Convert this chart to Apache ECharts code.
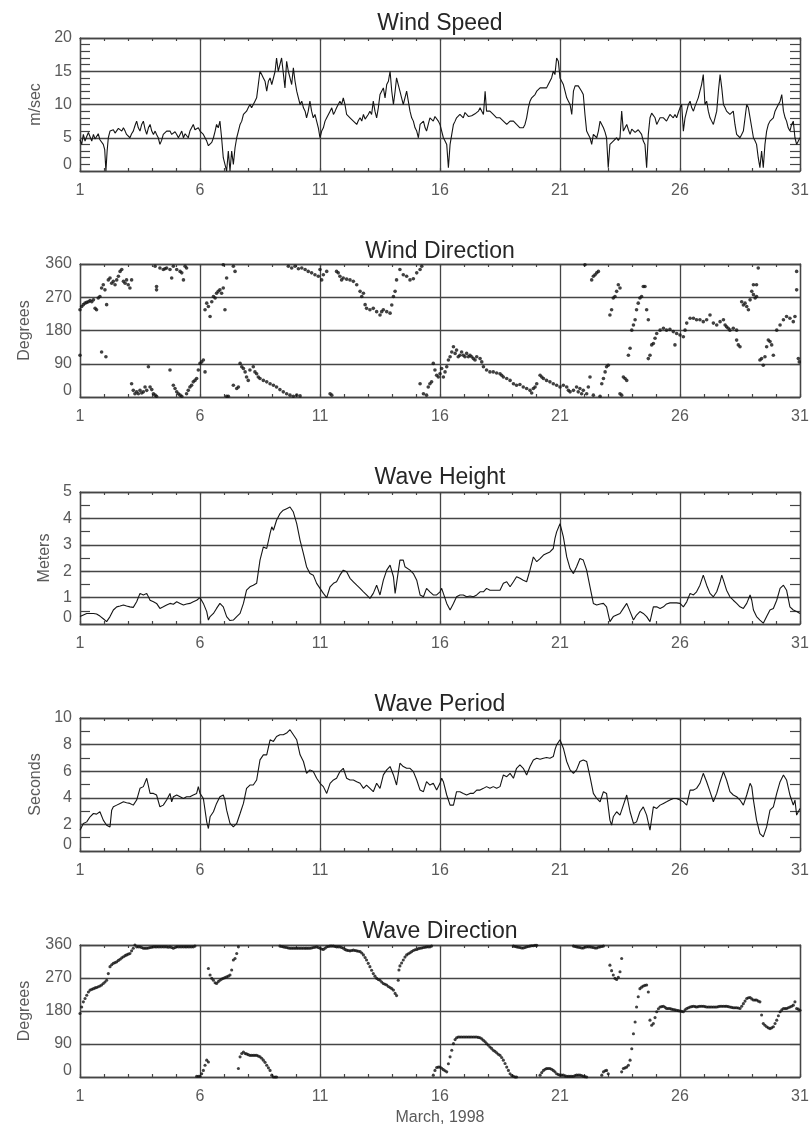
<!DOCTYPE html>
<html>
<head>
<meta charset="utf-8">
<script src="https://cdn.jsdelivr.net/npm/echarts@6/dist/echarts.min.js"></script>
<style>
  html, body { margin: 0; padding: 0; background: #ffffff; }
  #chart { width: 809px; height: 1125px; }
</style>
</head>
<body>
<div id="chart"></div>
<script>
// Time is measured in days elapsed since 1 March 1998, 00:00.
const dayLabels = ['1', '6', '11', '16', '21', '26', '31'];
const windSpeedTicks = [0, 5, 10, 15, 20];
const degreeTicks = [0, 90, 180, 270, 360];
const waveHeightTicks = [0, 1, 2, 3, 4, 5];
const wavePeriodTicks = [0, 2, 4, 6, 8, 10];
const panelTitles = ['Wind Speed', 'Wind Direction', 'Wave Height', 'Wave Period', 'Wave Direction'];
const unitNames = ['m/sec', 'Degrees', 'Meters', 'Seconds', 'Degrees'];
const monthLabel = 'March, 1998';

// [day, m/sec]
const windSpeed = [
  [0,4.7],[0.07,4],[0.14,5.5],[0.21,4.5],[0.28,5.2],[0.35,5.8],[0.42,5.5],[0.49,4.5],[0.56,5.5],[0.63,4.8],[0.69,5],[0.76,5.6],[0.83,4.7],[0.90,4.4],[0.97,4],[1.03,3.2],[1.08,0],[1.13,3],[1.18,5],[1.25,6],[1.32,6.3],[1.39,6.2],[1.46,5.7],[1.53,6],[1.60,6.4],[1.67,6.5],[1.74,6],[1.81,6.5],[1.88,6],[1.94,5.5],[2.01,5.3],[2.08,5],[2.15,5.6],[2.22,6],[2.29,6.8],[2.36,7.5],[2.43,6.5],[2.50,6],[2.57,7],[2.64,7.5],[2.71,6.3],[2.78,5.5],[2.85,6.5],[2.92,7],[2.99,6],[3.06,5.5],[3.13,6],[3.19,5.5],[3.26,5],[3.33,4],[3.40,4.6],[3.47,5.5],[3.54,5.8],[3.61,6],[3.68,6.2],[3.75,6],[3.82,5.5],[3.89,5.5],[3.96,5.9],[4.03,5.5],[4.10,5],[4.17,5.5],[4.24,6],[4.31,5],[4.38,5.6],[4.44,5.5],[4.51,5],[4.58,6],[4.65,6.5],[4.72,7],[4.79,6.2],[4.86,6],[4.93,6.5],[5.00,6],[5.07,5.8],[5.14,5.5],[5.21,5],[5.28,4.5],[5.35,3.8],[5.42,3.5],[5.49,4.3],[5.56,5],[5.63,6],[5.69,7],[5.76,6.5],[5.83,7.5],[5.90,5],[5.97,2],[6.04,1],[6.11,0],[6.18,3],[6.25,0],[6.32,3],[6.39,1],[6.46,3.5],[6.53,5],[6.60,6],[6.67,7],[6.74,7.5],[6.81,8.5],[6.88,8.2],[6.94,9],[7.01,9.5],[7.08,10],[7.15,9.5],[7.22,10],[7.29,10.5],[7.36,11],[7.43,13],[7.50,15],[7.57,14.5],[7.64,14],[7.71,13.5],[7.78,12],[7.85,13.5],[7.92,14],[7.99,13],[8.06,13],[8.13,15],[8.19,17],[8.26,15],[8.33,16],[8.40,17],[8.47,17],[8.54,12.5],[8.61,16.5],[8.68,15],[8.75,14],[8.82,13],[8.89,15.5],[8.96,13.5],[9.03,12],[9.10,11],[9.17,10],[9.24,10.5],[9.31,9.5],[9.38,9],[9.44,8],[9.51,9],[9.58,10.5],[9.65,9],[9.72,8],[9.79,8.5],[9.86,7.5],[9.93,6.5],[10.00,5],[10.07,6],[10.14,6.5],[10.21,7.5],[10.28,8],[10.35,8.5],[10.42,9],[10.49,9.5],[10.56,8.5],[10.63,9],[10.69,9.5],[10.76,10],[10.83,10.5],[10.90,10],[10.97,11],[11.04,10],[11.11,8.5],[11.18,8.8],[11.25,8],[11.32,7.8],[11.39,7.5],[11.46,7.8],[11.53,7],[11.60,7.6],[11.67,8],[11.74,7.5],[11.81,8.5],[11.88,7.8],[11.94,7.5],[12.01,8.5],[12.08,9],[12.15,8.5],[12.22,10.5],[12.29,9],[12.36,8],[12.43,9.5],[12.50,11.5],[12.57,12],[12.64,12.5],[12.71,11],[12.78,13],[12.85,13.5],[12.92,15],[12.99,12],[13.06,10],[13.13,12],[13.19,14],[13.26,13],[13.33,12],[13.40,11],[13.47,10],[13.54,11],[13.61,12],[13.68,10.5],[13.75,9],[13.82,8],[13.89,7.5],[13.96,6.5],[14.03,6],[14.10,5],[14.17,7],[14.24,7.2],[14.31,7.5],[14.38,6.5],[14.44,6],[14.51,7],[14.58,8],[14.65,7.8],[14.72,7.5],[14.79,8.2],[14.86,8],[14.93,7.5],[15.00,7],[15.07,6],[15.14,5],[15.21,4.5],[15.28,4],[15.35,0.5],[15.42,4],[15.49,5.5],[15.56,7],[15.63,7.5],[15.69,8],[15.76,8.2],[15.83,8.5],[15.90,8.3],[15.97,8],[16.04,8.8],[16.11,8.5],[16.18,8.2],[16.25,8],[16.32,8.3],[16.39,8],[16.46,8.6],[16.53,8.5],[16.60,9],[16.67,9.5],[16.74,9],[16.81,8.5],[16.88,12],[16.94,9],[17.01,9.2],[17.08,9],[17.15,8.8],[17.22,8.5],[17.29,8.3],[17.36,8],[17.43,8.2],[17.50,8],[17.57,7.7],[17.64,7.5],[17.71,7.3],[17.78,7],[17.85,7.2],[17.92,7.5],[17.99,7.8],[18.06,7.5],[18.13,7.2],[18.19,7],[18.26,6.8],[18.33,6.5],[18.40,6.8],[18.47,6.5],[18.54,7],[18.61,8],[18.68,9.5],[18.75,10.5],[18.82,11],[18.89,11],[18.96,11.5],[19.03,12],[19.10,12.3],[19.17,12.5],[19.24,12.2],[19.31,12.5],[19.38,12.8],[19.44,12.5],[19.51,13],[19.58,13.5],[19.65,14],[19.72,15],[19.79,14.5],[19.86,17],[19.93,16.5],[20.00,14],[20.07,13.5],[20.14,13],[20.21,12],[20.28,11],[20.35,10.5],[20.42,10],[20.49,8.5],[20.56,12],[20.63,12.8],[20.69,13],[20.76,12.8],[20.83,12.5],[20.90,12],[20.97,11.5],[21.04,8.5],[21.11,6],[21.18,5.5],[21.25,5],[21.32,4],[21.39,5.5],[21.46,5.3],[21.53,5],[21.60,6],[21.67,7.5],[21.74,7],[21.81,6.5],[21.88,5.8],[21.94,5],[22.01,0.5],[22.08,4],[22.15,4.3],[22.22,4.5],[22.29,4.8],[22.36,5],[22.43,4.6],[22.50,5],[22.57,9],[22.64,6],[22.71,6.5],[22.78,7],[22.85,6.2],[22.92,5.5],[22.99,6.3],[23.06,6],[23.13,5.8],[23.19,5.5],[23.26,6.2],[23.33,6],[23.40,5.5],[23.47,4.5],[23.54,4],[23.61,0.5],[23.68,5.5],[23.75,8],[23.82,8.7],[23.89,9],[23.96,8],[24.03,7],[24.10,7.5],[24.17,8],[24.24,8.2],[24.31,8],[24.38,7.8],[24.44,7.5],[24.51,8],[24.58,8.5],[24.65,8.2],[24.72,8],[24.79,8.5],[24.86,8],[24.93,8.8],[25.00,9.5],[25.07,10],[25.14,6],[25.21,8],[25.28,9],[25.35,10],[25.42,10.5],[25.49,9.5],[25.56,9],[25.63,9.8],[25.69,10],[25.76,11],[25.83,12],[25.90,13],[25.97,14.5],[26.04,10],[26.11,10.5],[26.18,9],[26.25,8],[26.32,7.5],[26.39,7],[26.46,8],[26.53,9],[26.60,12],[26.67,14.5],[26.74,12.5],[26.81,10],[26.88,9.5],[26.94,9],[27.01,8.8],[27.08,8.5],[27.15,8.8],[27.22,9],[27.29,7],[27.36,5.5],[27.43,5.2],[27.50,5],[27.57,5.5],[27.64,6],[27.71,8],[27.78,10],[27.85,9.5],[27.92,8],[27.99,6.5],[28.06,5],[28.13,4.5],[28.19,4],[28.26,2],[28.33,0.5],[28.40,3],[28.47,0.5],[28.54,4],[28.61,6],[28.68,7],[28.75,7.5],[28.82,7.8],[28.89,8],[28.96,9],[29.03,9.5],[29.10,10],[29.17,10.5],[29.24,11.5],[29.31,9],[29.38,8],[29.44,7.5],[29.51,6.5],[29.58,6],[29.65,7],[29.72,7.5],[29.79,5],[29.86,4],[29.93,4.5],[30.00,5]
];

// [day, degrees]
const windDirection = [
  [0.00,236],[0.07,245],[0.14,250],[0.21,254],[0.28,256],[0.35,258],[0.42,261],[0.49,258],[0.56,263],[0.63,240],[0.69,236],[0.76,268],[0.83,272],[0.90,295],[0.97,304],[1.04,290],[1.11,250],
  [0.00,113],[0.90,122],[1.08,109],
  [1.18,317],[1.25,322],[1.32,308],[1.39,313],[1.46,304],[1.53,317],[1.60,327],[1.67,340],[1.74,345],[1.81,313],[1.88,308],[1.94,317],[2.01,304],[2.08,295],[2.15,317],
  [2.15,36],[2.22,18],[2.29,9],[2.36,14],[2.43,9],[2.50,18],[2.57,11],[2.64,14],[2.71,27],[2.78,18],[2.85,82],[2.92,27],[2.99,20],[3.06,9],[3.13,5],[3.19,2],
  [3.19,290],[3.19,299],
  [3.13,354],[3.33,349],[3.47,345],[3.54,347],[3.61,349],[3.75,345],[3.82,322],[3.89,354],[4.03,345],[4.17,340],[4.24,336],[4.31,317],[4.38,354],[4.44,349],
  [3.75,73],[3.89,32],[3.96,23],[4.03,14],[4.10,9],[4.17,5],[4.24,2],
  [4.44,9],[4.51,18],[4.58,27],[4.65,32],[4.72,41],[4.79,45],[4.86,50],[4.93,73],[5.00,91],[5.07,95],[5.14,100],[5.21,68],
  [5.21,236],[5.28,254],[5.35,245],[5.42,218],[5.49,258],[5.56,272],[5.63,268],[5.69,281],[5.76,286],[5.83,290],[5.90,281],[5.97,295],[6.04,236],[6.11,322],
  [5.97,358],[6.39,354],[6.46,340],
  [6.39,32],[6.53,23],[6.60,27],
  [6.11,2],[6.18,2],
  [6.67,91],[6.74,82],[6.81,77],[6.88,68],[6.94,54],[7.01,45],[7.08,73],[7.22,82],[7.29,68],[7.36,63],[7.43,54],[7.50,50],[7.64,45],[7.78,41],[7.92,36],[8.06,32],[8.19,27],[8.33,20],[8.47,14],[8.61,9],[8.75,5],[8.89,2],[9.03,5],[9.17,3],
  [8.68,354],[8.82,349],[8.96,354],[9.10,347],[9.24,349],[9.38,345],[9.51,340],[9.65,336],[9.79,331],[9.93,327],[10.00,345],[10.07,317],[10.14,331],[10.28,340],
  [10.42,9],[10.49,5],
  [10.69,340],[10.76,336],[10.83,327],[10.90,317],[10.97,322],[11.11,319],[11.25,317],[11.39,313],[11.53,304],[11.67,286],[11.74,272],[11.81,281],
  [11.88,250],[11.94,240],[12.08,236],[12.22,240],[12.36,231],[12.50,222],[12.57,231],[12.64,236],[12.78,231],[12.92,227],[12.99,249],[13.06,272],[13.13,286],
  [13.19,317],[13.33,345],[13.47,331],[13.61,327],[13.75,317],[13.89,320],[14.03,336],[14.17,345],[14.24,354],
  [14.17,36],[14.31,9],[14.44,5],[14.51,27],[14.58,36],[14.65,41],[14.72,91],[14.79,73],[14.86,59],[14.93,54],[15.00,63],[15.07,77],[15.14,54],[15.21,68],[15.28,82],[15.35,100],[15.42,109],[15.49,122],[15.56,136],[15.63,118],[15.69,127],[15.76,109],[15.83,113],[15.90,122],[15.97,113],[16.04,109],[16.11,118],[16.18,109],[16.25,113],[16.32,109],[16.39,104],[16.46,100],[16.53,109],[16.67,104],[16.74,95],
  [16.81,82],[16.94,73],[17.08,68],[17.22,68],[17.36,65],[17.50,63],[17.57,59],[17.64,54],[17.78,50],[17.92,45],[18.06,36],[18.19,32],[18.33,34],[18.47,27],[18.61,23],[18.75,18],[18.82,11],[18.89,23],[18.96,27],[19.03,36],[19.17,59],[19.24,54],[19.31,50],[19.44,45],[19.58,41],[19.72,36],[19.86,32],[20.00,27],[20.14,32],[20.28,27],[20.35,18],[20.42,14],[20.56,18],[20.69,27],[20.76,14],[20.83,23],[20.90,9],[20.97,18],[21.11,9],[21.18,27],[21.25,54],[21.39,5],
  [21.04,358],[21.32,317],[21.39,327],[21.46,331],[21.53,336],[21.60,340],
  [21.67,2],
  [21.74,36],[21.81,50],[21.88,68],[21.94,82],[22.01,86],
  [22.08,222],[22.15,236],[22.22,268],[22.29,272],[22.36,286],[22.43,304],[22.50,295],
  [22.50,9],[22.57,5],
  [22.64,54],[22.71,50],[22.78,45],
  [22.85,113],[22.92,132],[22.99,181],[23.06,195],[23.13,209],[23.19,236],[23.26,254],[23.33,268],[23.40,272],[23.47,299],[23.54,299],[23.61,236],[23.68,209],
  [23.68,104],[23.75,113],[23.82,141],[23.89,145],[23.96,159],[24.03,172],[24.17,181],[24.31,186],[24.44,181],[24.58,183],[24.72,177],[24.86,172],[25.00,168],[25.14,163],[24.79,141],
  [25.21,181],[25.28,200],[25.42,213],[25.56,213],[25.69,209],[25.83,209],[25.97,204],[26.11,209],[26.25,222],[26.39,200],[26.53,195],[26.67,204],[26.81,209],[26.88,195],[26.94,190],[27.01,186],[27.08,181],[27.22,186],[27.36,181],
  [27.36,154],[27.43,141],[27.50,136],
  [27.57,258],[27.64,249],[27.71,254],[27.78,245],[27.85,236],[27.92,263],[27.99,286],[28.06,277],[28.13,268],[28.19,272],[28.06,304],[28.19,304],
  [28.26,349],
  [28.33,100],[28.40,104],[28.47,86],[28.54,109],[28.61,136],[28.68,154],[28.75,150],[28.82,141],[28.89,113],
  [29.03,181],[29.17,195],[29.31,209],[29.44,218],[29.58,213],[29.72,204],[29.79,218],
  [29.86,340],[29.86,290],[29.93,104],[29.97,95]
];

// [day, meters]
const waveHeight = [
  [0.00,0.28],[0.14,0.34],[0.28,0.4],[0.42,0.4],[0.56,0.4],[0.69,0.38],[0.83,0.3],[0.97,0.2],[1.11,0.09],[1.25,0.28],[1.39,0.53],[1.53,0.65],[1.67,0.68],[1.81,0.72],[1.94,0.68],[2.08,0.65],[2.22,0.63],[2.36,0.84],[2.50,1.16],[2.64,1.1],[2.78,1.16],[2.92,0.9],[3.06,0.84],[3.19,0.78],[3.33,0.59],[3.47,0.65],[3.61,0.72],[3.75,0.78],[3.89,0.75],[4.03,0.84],[4.17,0.78],[4.31,0.72],[4.44,0.76],[4.58,0.78],[4.72,0.84],[4.86,0.9],[5.00,1.0],[5.14,0.78],[5.28,0.47],[5.35,0.15],[5.42,0.28],[5.56,0.4],[5.69,0.59],[5.83,0.78],[5.90,0.8],[5.97,0.65],[6.11,0.28],[6.25,0.13],[6.39,0.15],[6.53,0.28],[6.67,0.4],[6.81,0.78],[6.94,1.28],[7.08,1.41],[7.22,1.47],[7.36,1.54],[7.50,2.42],[7.64,2.92],[7.78,2.86],[7.92,3.43],[7.99,3.68],[8.06,3.55],[8.19,3.93],[8.33,4.18],[8.47,4.31],[8.61,4.37],[8.75,4.43],[8.82,4.37],[8.89,4.24],[9.03,3.8],[9.17,3.17],[9.31,2.67],[9.44,2.17],[9.58,1.91],[9.65,1.98],[9.72,1.85],[9.86,1.54],[10.00,1.35],[10.14,1.16],[10.28,1.0],[10.42,1.41],[10.56,1.54],[10.69,1.6],[10.83,1.85],[10.97,2.04],[11.11,1.98],[11.25,1.73],[11.39,1.6],[11.53,1.47],[11.67,1.35],[11.81,1.22],[11.94,1.1],[12.08,0.97],[12.22,1.16],[12.36,1.47],[12.50,1.1],[12.64,1.66],[12.78,2.04],[12.92,2.23],[13.06,1.79],[13.13,1.16],[13.19,1.22],[13.33,2.42],[13.47,2.42],[13.54,2.17],[13.61,2.17],[13.75,2.04],[13.89,1.91],[14.03,1.66],[14.17,1.1],[14.31,1.03],[14.44,1.35],[14.58,1.22],[14.72,1.1],[14.86,1.1],[15.00,1.22],[15.07,1.35],[15.14,1.16],[15.28,0.78],[15.42,0.53],[15.49,0.53],[15.56,0.78],[15.69,1.03],[15.83,1.1],[15.97,1.1],[16.11,1.03],[16.25,1.06],[16.39,1.03],[16.53,1.1],[16.67,1.22],[16.81,1.22],[16.94,1.35],[17.08,1.28],[17.22,1.28],[17.36,1.28],[17.50,1.28],[17.64,1.54],[17.78,1.6],[17.92,1.41],[18.06,1.6],[18.19,1.79],[18.33,1.73],[18.47,1.66],[18.61,1.6],[18.75,2.04],[18.89,2.54],[19.03,2.36],[19.17,2.48],[19.31,2.61],[19.44,2.67],[19.58,2.73],[19.72,2.86],[19.79,3.24],[19.86,3.49],[20.00,3.8],[20.14,3.3],[20.28,2.54],[20.42,2.1],[20.56,1.91],[20.69,2.17],[20.83,2.48],[20.97,2.42],[21.11,2.04],[21.25,1.41],[21.39,0.78],[21.53,0.72],[21.67,0.76],[21.81,0.78],[21.94,0.65],[22.08,0.09],[22.22,0.28],[22.36,0.34],[22.50,0.4],[22.64,0.59],[22.78,0.78],[22.92,0.47],[23.06,0.15],[23.19,0.34],[23.33,0.47],[23.47,0.4],[23.61,0.28],[23.75,0.09],[23.89,0.65],[24.03,0.65],[24.17,0.59],[24.31,0.65],[24.44,0.76],[24.58,0.8],[24.72,0.8],[24.86,0.8],[25.00,0.78],[25.14,0.65],[25.28,0.84],[25.42,1.16],[25.56,1.1],[25.69,1.22],[25.83,1.47],[25.97,1.85],[26.11,1.47],[26.25,1.16],[26.39,1.03],[26.53,1.22],[26.67,1.6],[26.74,1.85],[26.81,1.66],[26.94,1.28],[27.08,1.03],[27.22,0.9],[27.36,0.78],[27.50,0.65],[27.64,0.59],[27.78,0.78],[27.92,1.1],[27.99,0.9],[28.06,0.53],[28.19,0.28],[28.33,0.15],[28.47,0.03],[28.61,0.28],[28.75,0.53],[28.89,0.59],[29.03,0.9],[29.17,1.35],[29.31,1.47],[29.44,1.28],[29.58,0.65],[29.72,0.53],[29.86,0.47],[30.00,0.4]
];

// [day, seconds]
const wavePeriod = [
  [0.00,1.56],[0.14,2.07],[0.28,2.19],[0.42,2.57],[0.56,2.82],[0.69,2.77],[0.83,2.95],[0.97,2.32],[1.11,1.94],[1.25,1.81],[1.32,3.07],[1.39,3.32],[1.53,3.45],[1.67,3.58],[1.81,3.7],[1.94,3.63],[2.08,3.58],[2.22,3.45],[2.36,3.83],[2.50,4.71],[2.64,4.84],[2.78,5.47],[2.92,4.33],[3.06,4.33],[3.19,4.21],[3.33,3.32],[3.47,3.45],[3.61,3.83],[3.75,4.33],[3.82,3.7],[3.89,4.08],[4.03,4.21],[4.17,4.08],[4.31,3.95],[4.44,4.08],[4.58,4.08],[4.72,4.21],[4.86,4.33],[4.93,4.84],[5.00,4.33],[5.14,3.95],[5.28,2.19],[5.35,1.69],[5.42,2.57],[5.56,2.95],[5.69,3.58],[5.83,4.08],[5.97,4.21],[6.04,3.83],[6.11,3.07],[6.25,2.07],[6.39,1.81],[6.53,2.07],[6.67,2.82],[6.81,3.58],[6.94,4.71],[7.08,4.96],[7.22,4.96],[7.36,5.34],[7.50,6.85],[7.64,7.23],[7.78,7.23],[7.92,8.36],[7.99,8.49],[8.06,8.24],[8.19,8.61],[8.33,8.74],[8.47,8.74],[8.61,8.87],[8.75,9.12],[8.89,8.74],[9.03,8.36],[9.17,7.23],[9.31,6.73],[9.44,5.84],[9.58,6.1],[9.72,5.97],[9.86,5.47],[10.00,5.09],[10.14,4.84],[10.28,4.33],[10.42,5.09],[10.56,5.34],[10.69,5.47],[10.83,5.97],[10.97,6.22],[11.11,5.47],[11.25,5.34],[11.39,5.34],[11.53,5.21],[11.67,5.09],[11.81,4.71],[11.94,4.96],[12.08,4.71],[12.22,4.46],[12.36,5.09],[12.50,4.71],[12.64,5.72],[12.78,6.1],[12.92,6.35],[13.06,5.72],[13.19,4.96],[13.33,6.6],[13.47,6.35],[13.61,6.22],[13.75,6.22],[13.89,5.97],[14.03,5.34],[14.17,4.58],[14.31,4.46],[14.44,5.21],[14.58,4.96],[14.72,5.09],[14.86,4.58],[15.00,5.09],[15.07,5.47],[15.14,5.21],[15.28,4.21],[15.42,3.45],[15.56,3.45],[15.69,4.46],[15.83,4.46],[15.97,4.33],[16.11,4.21],[16.25,4.33],[16.39,4.33],[16.53,4.58],[16.67,4.58],[16.81,4.71],[16.94,4.84],[17.08,4.71],[17.22,4.84],[17.36,4.71],[17.50,4.84],[17.64,5.72],[17.78,5.59],[17.92,5.84],[18.06,5.47],[18.19,6.22],[18.33,6.47],[18.47,6.22],[18.61,5.72],[18.75,6.35],[18.89,6.85],[19.03,6.98],[19.17,6.9],[19.31,6.98],[19.44,7.03],[19.58,6.98],[19.72,7.1],[19.79,7.61],[19.86,7.98],[20.00,8.36],[20.14,7.73],[20.28,6.73],[20.42,6.1],[20.56,5.84],[20.69,6.1],[20.83,6.73],[20.97,6.85],[21.11,6.73],[21.25,5.59],[21.39,4.33],[21.53,3.95],[21.67,3.7],[21.81,4.46],[21.94,4.33],[22.08,2.32],[22.15,1.94],[22.22,2.57],[22.36,2.95],[22.50,2.7],[22.64,3.45],[22.78,4.21],[22.92,2.95],[23.06,2.07],[23.19,2.19],[23.33,2.95],[23.47,3.32],[23.61,2.7],[23.75,1.56],[23.89,3.32],[24.03,3.2],[24.17,3.45],[24.31,3.58],[24.44,3.7],[24.58,3.83],[24.72,3.95],[24.86,3.95],[25.00,3.83],[25.14,3.7],[25.28,3.45],[25.42,4.58],[25.56,4.58],[25.69,4.71],[25.83,5.09],[25.97,5.84],[26.11,5.21],[26.25,4.46],[26.39,3.7],[26.53,4.33],[26.67,5.21],[26.81,5.97],[26.94,5.34],[27.08,4.46],[27.22,4.21],[27.36,4.08],[27.50,3.83],[27.64,3.45],[27.78,4.21],[27.92,5.09],[27.99,4.84],[28.06,3.83],[28.19,2.32],[28.33,1.31],[28.47,1.06],[28.61,1.81],[28.75,3.07],[28.89,3.32],[29.03,4.33],[29.17,5.21],[29.31,5.72],[29.44,5.34],[29.58,4.21],[29.72,3.45],[29.79,3.83],[29.86,2.7],[30.00,3.2]
];

// [day, degrees]
const waveDirection = [
  [0.00,173],[0.07,191],[0.14,205],[0.21,214],[0.28,223],[0.35,232],[0.42,237],[0.49,239],[0.56,241],[0.63,243],[0.69,244],[0.76,246],[0.83,248],[0.90,251],[0.97,255],[1.04,259],[1.11,264],[1.18,282],[1.25,301],[1.32,306],[1.39,310],[1.46,312],[1.53,314],[1.60,318],[1.67,321],[1.74,325],[1.81,328],[1.88,331],[1.94,333],[2.01,335],[2.08,337],[2.15,344],[2.22,351],[2.29,360],[2.36,355],[2.43,355],[2.50,355],[2.57,353],[2.64,351],[2.71,351],[2.78,351],[2.85,352],[2.92,353],[2.99,354],[3.06,355],[3.13,355],[3.19,355],[3.26,355],[3.33,355],[3.40,355],[3.47,355],[3.54,355],[3.61,355],[3.68,354],[3.75,355],[3.82,353],[3.89,351],[3.96,353],[4.03,355],[4.10,355],[4.17,355],[4.24,355],[4.31,355],[4.38,355],[4.44,355],[4.51,355],[4.58,355],[4.65,355],[4.72,355],[4.79,357],
  [4.86,2],[4.93,2],[5.00,2],[5.07,9],[5.14,18],[5.21,32],[5.28,46],[5.35,41],
  [5.35,296],[5.42,278],[5.49,269],[5.56,264],[5.63,257],[5.69,255],[5.76,260],[5.83,264],[5.90,267],[5.97,269],[6.04,271],[6.11,273],[6.18,275],[6.25,278],[6.32,292],[6.39,319],[6.46,323],[6.53,337],[6.60,355],
  [6.60,23],[6.67,55],[6.74,64],[6.81,68],[6.88,64],[6.94,63],[7.01,61],[7.08,59],[7.15,59],[7.22,59],[7.29,59],[7.36,59],[7.43,57],[7.50,55],[7.57,51],[7.64,46],[7.71,40],[7.78,32],[7.85,25],[7.92,18],[7.99,5],[8.06,0],[8.13,0],[8.19,0],
  [8.33,357],[8.40,356],[8.47,355],[8.54,354],[8.61,353],[8.68,352],[8.75,351],[8.82,351],[8.89,351],[8.96,351],[9.03,351],[9.10,351],[9.17,351],[9.24,351],[9.31,351],[9.38,351],[9.44,351],[9.51,351],[9.58,351],[9.65,352],[9.72,353],[9.79,354],[9.86,355],[9.93,353],[10.00,351],[10.07,349],[10.14,348],[10.21,351],[10.28,355],[10.35,356],[10.42,357],[10.49,357],[10.56,357],[10.63,356],[10.69,355],[10.76,355],[10.83,355],[10.90,353],[10.97,351],[11.04,348],[11.11,346],[11.18,345],[11.25,344],[11.32,345],[11.39,346],[11.46,345],[11.53,344],[11.60,343],[11.67,342],[11.74,338],[11.81,333],[11.88,326],[11.94,319],[12.01,310],[12.08,301],[12.15,291],[12.22,282],[12.29,275],[12.36,269],[12.43,266],[12.50,264],[12.57,259],[12.64,255],[12.71,253],[12.78,251],[12.85,247],[12.92,244],[12.99,241],[13.06,237],[13.13,228],[13.19,222],
  [13.26,264],[13.29,292],[13.33,303],[13.40,311],[13.47,319],[13.54,327],[13.61,333],[13.68,336],[13.75,339],[13.82,342],[13.89,345],[13.96,347],[14.03,348],[14.10,350],[14.17,351],[14.24,352],[14.31,353],[14.38,354],[14.44,355],[14.51,355],[14.58,355],[14.65,357],
  [14.72,5],[14.79,18],[14.86,26],[14.93,27],[15.00,27],[15.07,24],[15.14,20],[15.21,17],[15.28,14],[15.35,36],[15.42,55],[15.49,73],[15.56,91],[15.63,102],[15.69,107],[15.76,109],[15.83,109],[15.90,109],[15.97,109],[16.04,109],[16.11,109],[16.18,109],[16.25,109],[16.32,109],[16.39,109],[16.46,109],[16.53,109],[16.60,108],[16.67,107],[16.74,104],[16.81,100],[16.88,96],[16.94,91],[17.01,87],[17.08,82],[17.15,78],[17.22,73],[17.29,70],[17.36,66],[17.43,62],[17.50,59],[17.57,53],[17.64,46],[17.71,37],[17.78,27],[17.85,18],[17.92,9],[17.99,4],[18.06,2],[18.13,0],[18.19,0],
  [18.06,357],[18.13,356],[18.19,355],[18.26,354],[18.33,353],[18.40,352],[18.47,352],[18.54,353],[18.61,355],[18.68,356],[18.75,357],[18.82,358],[18.89,358],[18.96,359],[19.03,359],
  [19.17,5],[19.24,12],[19.31,18],[19.38,21],[19.44,23],[19.51,23],[19.58,23],[19.65,21],[19.72,18],[19.79,14],[19.86,9],[19.93,7],[20.00,5],[20.07,5],[20.14,5],[20.21,3],[20.28,2],[20.35,2],[20.42,2],[20.49,2],[20.56,2],[20.63,4],[20.69,5],[20.76,5],[20.83,5],[20.90,4],[20.97,2],[21.04,1],[21.11,0],
  [20.56,357],[20.63,356],[20.69,355],[20.76,354],[20.83,353],[20.90,352],[20.97,352],[21.04,354],[21.11,355],[21.18,355],[21.25,355],[21.32,354],[21.39,353],[21.46,352],[21.53,352],[21.60,354],[21.67,355],[21.74,356],[21.81,357],
  [21.74,5],[21.81,14],[21.88,17],[21.94,18],[22.01,9],
  [22.08,305],[22.15,290],[22.22,278],[22.29,269],[22.36,266],[22.43,272],[22.50,287],[22.57,323],
  [22.57,14],[22.64,23],[22.71,25],[22.78,27],[22.85,32],[22.92,46],[22.99,77],[23.06,118],[23.13,150],[23.19,191],[23.26,219],[23.33,241],[23.40,245],[23.47,248],[23.54,250],[23.61,251],[23.68,232],
  [23.75,155],[23.82,141],[23.89,146],[23.96,162],[24.03,178],[24.10,186],[24.17,191],[24.24,192],[24.31,193],[24.38,190],[24.44,187],[24.51,187],[24.58,187],[24.65,185],[24.72,184],[24.79,183],[24.86,182],[24.93,181],[25.00,180],[25.07,179],[25.14,178],[25.21,183],[25.28,187],[25.35,189],[25.42,191],[25.49,192],[25.56,193],[25.63,192],[25.69,191],[25.76,192],[25.83,193],[25.90,193],[25.97,193],[26.04,192],[26.11,191],[26.18,191],[26.25,191],[26.32,191],[26.39,191],[26.46,191],[26.53,191],[26.60,192],[26.67,193],[26.74,193],[26.81,193],[26.88,193],[26.94,193],[27.01,192],[27.08,191],[27.15,190],[27.22,189],[27.29,189],[27.36,189],[27.43,188],[27.50,187],[27.57,193],[27.64,200],[27.71,207],[27.78,214],[27.85,216],[27.92,217],[27.99,213],[28.06,210],[28.13,210],[28.19,210],[28.26,207],[28.33,205],
  [28.40,169],[28.47,146],[28.54,141],[28.61,137],[28.68,134],[28.75,132],[28.82,134],[28.89,137],[28.96,146],[29.03,155],[29.10,167],[29.17,178],[29.24,183],[29.31,187],[29.38,187],[29.44,187],[29.51,189],[29.58,191],[29.65,193],[29.72,196],[29.79,205],[29.86,187],[29.93,185],[30.00,182]
];

// Drawing layout for the five stacked panels (pixels).
const PLOT_LEFT = 80;
const PLOT_WIDTH = 720;
const panelLayout = [
  { top: 38,  height: 133, titleTop: 12,  nameGap: 35, minorSplit: 5 },
  { top: 264, height: 133, titleTop: 240, nameGap: 47, minorSplit: 0 },
  { top: 492, height: 132, titleTop: 466, nameGap: 26, minorSplit: 2 },
  { top: 718, height: 133, titleTop: 693, nameGap: 36, minorSplit: 2 },
  { top: 945, height: 132, titleTop: 920, nameGap: 47, minorSplit: 0 }
];
const panelTicks = [windSpeedTicks, degreeTicks, waveHeightTicks, wavePeriodTicks, degreeTicks];

const FONT = "'Liberation Sans', Arial, Helvetica, sans-serif";
const FRAME = '#454545';
const LABEL = '#5a5a5a';
const INK = '#151515';

const grids = [], xAxes = [], yAxes = [], titles = [];

panelLayout.forEach((p, i) => {
  grids.push({ left: PLOT_LEFT, top: p.top, width: PLOT_WIDTH, height: p.height, outerBoundsMode: 'none' });

  titles.push({
    text: panelTitles[i],
    left: PLOT_LEFT + PLOT_WIDTH / 2,
    top: p.titleTop,
    padding: 0,
    textAlign: 'center',
    textStyle: { fontFamily: FONT, fontSize: 23, fontWeight: 'normal', color: '#262626' }
  });

  const frameLine = { show: true, onZero: false, lineStyle: { color: FRAME, width: 1.3 } };
  const xCommon = {
    type: 'value', gridIndex: i, min: 0, max: 30, interval: 5,
    axisLine: frameLine,
    axisTick: { show: true, inside: true, length: 3, lineStyle: { color: FRAME, width: 1.2 } },
    minorTick: { show: true, splitNumber: 5, length: 3, lineStyle: { color: FRAME, width: 1.2 } }
  };
  const isLast = i === panelLayout.length - 1;
  xAxes.push(Object.assign({}, xCommon, {
    position: 'bottom',
    splitLine: { show: true, lineStyle: { color: FRAME, width: 1.3 } },
    axisLabel: {
      show: true, margin: 12, color: LABEL, fontFamily: FONT, fontSize: 16,
      formatter: v => dayLabels[Math.round(v / 5)]
    },
    name: isLast ? monthLabel : '',
    nameLocation: 'middle', nameGap: 33,
    nameTextStyle: { color: LABEL, fontFamily: FONT, fontSize: 16 }
  }));
  xAxes.push(Object.assign({}, xCommon, {
    position: 'top', splitLine: { show: false }, axisLabel: { show: false }
  }));

  const ticks = panelTicks[i];
  const yCommon = {
    type: 'value', gridIndex: i,
    min: ticks[0], max: ticks[ticks.length - 1], interval: ticks[1] - ticks[0],
    axisLine: frameLine,
    axisTick: { show: true, inside: true, length: 10, lineStyle: { color: FRAME, width: 1.2 } },
    minorTick: { show: p.minorSplit > 0, splitNumber: p.minorSplit || 5, length: 10, lineStyle: { color: FRAME, width: 1.2 } }
  };
  yAxes.push(Object.assign({}, yCommon, {
    position: 'left',
    splitLine: { show: true, lineStyle: { color: FRAME, width: 1.3 } },
    axisLabel: {
      show: true, margin: 8, color: LABEL, fontFamily: FONT, fontSize: 16, lineHeight: 12,
      verticalAlignMinLabel: 'bottom'
    },
    name: unitNames[i], nameLocation: 'middle', nameGap: p.nameGap,
    nameTextStyle: { color: LABEL, fontFamily: FONT, fontSize: 16 }
  }));
  yAxes.push(Object.assign({}, yCommon, {
    position: 'right', splitLine: { show: false }, axisLabel: { show: false }
  }));
});

function lineSeries(data, panel) {
  return {
    type: 'line', data, xAxisIndex: panel * 2, yAxisIndex: panel * 2,
    showSymbol: false, smooth: false, animation: false,
    lineStyle: { color: INK, width: 1.1 }, z: 5
  };
}
function dotSeries(data, panel, size) {
  return {
    type: 'scatter', data, xAxisIndex: panel * 2, yAxisIndex: panel * 2,
    symbol: 'circle', symbolSize: size, animation: false,
    itemStyle: { color: '#111111' }, z: 5
  };
}

const chart = echarts.init(document.getElementById('chart'), null, { renderer: 'canvas' });
chart.setOption({
  backgroundColor: '#ffffff',
  animation: false,
  title: titles,
  grid: grids,
  xAxis: xAxes,
  yAxis: yAxes,
  series: [
    lineSeries(windSpeed, 0),
    dotSeries(windDirection, 1, 3.6),
    lineSeries(waveHeight, 2),
    lineSeries(wavePeriod, 3),
    dotSeries(waveDirection, 4, 3.1)
  ]
});
</script>
</body>
</html>
